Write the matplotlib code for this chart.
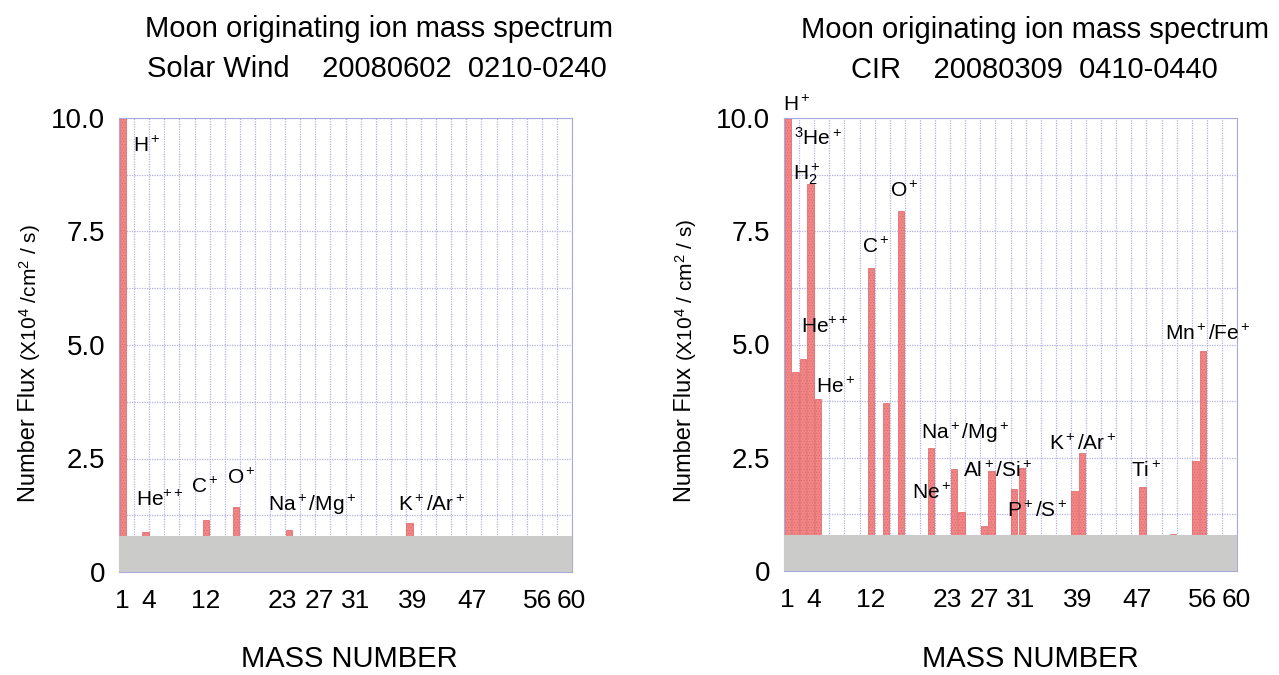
import matplotlib
matplotlib.use('Agg')
import matplotlib.pyplot as plt
import numpy as np

plt.rcParams['font.family'] = ['Liberation Sans', 'DejaVu Sans']
plt.rcParams['mathtext.fontset'] = 'custom'
plt.rcParams['mathtext.rm'] = 'Liberation Sans'
plt.rcParams['mathtext.it'] = 'Liberation Sans'
plt.rcParams['mathtext.bf'] = 'Liberation Sans:bold'
plt.rcParams['mathtext.default'] = 'regular'
plt.rcParams['hatch.linewidth'] = 0.35
plt.rcParams['hatch.color'] = '#d86464'

# ---------------- data ----------------
title_main = "Moon originating ion mass spectrum"
sw_subtitle = "Solar Wind    20080602  0210-0240"
cir_subtitle = "CIR    20080309  0410-0440"
xlabel_text = "MASS NUMBER"

sw_mass = [1, 4, 12, 16, 23, 39]
sw_flux = [10.5, 0.88, 1.14, 1.44, 0.93, 1.07]

cir_mass = [1, 2, 3, 4, 5, 12, 14, 16, 20, 23, 24, 27, 28, 31, 32, 39, 40, 48, 52, 55, 56]
cir_flux = [10.5, 4.40, 4.69, 8.54, 3.79, 6.68, 3.70, 7.95, 2.71, 2.25, 1.31, 0.99, 2.21,
            1.80, 2.27, 1.76, 2.61, 1.85, 0.82, 2.43, 4.86]

mass_ticks = [1, 4, 12, 23, 27, 31, 39, 47, 56, 60]
# where each mass-number label sits along the axis (data units, as in the original)
mass_tick_pos = [0.4, 3.9, 11.45, 21.65, 26.6, 31.4, 38.95, 46.8, 55.5, 59.9]
flux_ticks = [0, 2.5, 5.0, 7.5, 10.0]
flux_ticklabels = ['0', '2.5', '5.0', '7.5', '10.0']
background_level = 0.79

sw_labels = [r'H$^+$', r'He$^{++}$', r'C$^+$', r'O$^+$', r'Na$^+$/Mg$^+$', r'K$^+$/Ar$^+$']
cir_labels = [r'H$^+$', r'${}^{3}$He$^+$', r'H$_2^+$', r'O$^+$', r'C$^+$', r'He$^{++}$',
              r'He$^+$', r'Mn$^+$/Fe$^+$', r'Na$^+$/Mg$^+$', r'K$^+$/Ar$^+$',
              r'Al$^+$/Si$^+$', r'Ti$^+$', r'Ne$^+$', r'P$^+$/S$^+$']

# label anchor positions (data coords, left/baseline)
sw_label_pos = [(1.9, 9.26), (2.25, 1.45), (9.6, 1.75), (14.3, 1.94), (19.8, 1.35), (36.9, 1.35)]
cir_label_pos = [(-0.1, 10.16), (1.3, 9.40), (1.15, 8.65), (14.1, 8.26), (10.3, 7.01),
                 (2.2, 5.26), (4.3, 3.92), (50.5, 5.11), (18.1, 2.91), (35.1, 2.67),
                 (23.7, 2.08), (45.9, 2.08), (16.9, 1.58), (29.6, 1.20)]

# ---------------- figure ----------------
W, H = 1279, 675
fig = plt.figure(figsize=(W / 100, H / 100), dpi=100)

BAR_FACE = '#f28686'
BAR_EDGE = '#dd6262'
BAND = '#cbcbc9'
GRID = '#b2b2e4'
FRAME = '#a9a9dc'


def make_panel(rect, mass, flux, labels, label_pos):
    ax = fig.add_axes(rect)
    ax.set_xlim(0, 60)
    ax.set_ylim(0, 10)
    ax.bar([m - 0.5 for m in mass], flux, width=0.85, color=BAR_FACE,
           edgecolor=BAR_EDGE, linewidth=0.5, hatch='......', zorder=2)
    ax.axhspan(0, background_level, color=BAND, zorder=3, lw=0)
    ax.set_xticks(np.arange(0, 61, 2), minor=True)
    ax.set_yticks(np.arange(0, 10.01, 1.25), minor=True)
    ax.set_xticks(mass_tick_pos)
    ax.set_xticklabels([str(m) for m in mass_ticks])
    ax.set_yticks(flux_ticks)
    ax.set_yticklabels(flux_ticklabels)
    ax.grid(False)
    ax.grid(which='minor', color=GRID, linestyle=(0, (1, 1)), linewidth=0.9)
    ax.yaxis.grid(True, which='major', color=GRID, linestyle=(0, (1, 1)), linewidth=0.9)
    ax.set_axisbelow(True)
    ax.tick_params(which='both', length=0)
    ax.tick_params(axis='x', labelsize=19, pad=12)
    ax.tick_params(axis='y', labelsize=20, pad=10)
    for s in ax.spines.values():
        s.set_color(FRAME)
        s.set_linewidth(0.8)
    for t, (x, y) in zip(labels, label_pos):
        ax.text(x, y, t, fontsize=15, ha='left', va='baseline', zorder=5, clip_on=False)
    return ax


axL = make_panel([119 / W, 1 - 572 / H, 453 / W, 454 / H], sw_mass, sw_flux, sw_labels, sw_label_pos)
axR = make_panel([784 / W, 1 - 571 / H, 453 / W, 453 / H], cir_mass, cir_flux, cir_labels, cir_label_pos)

# titles
fig.text(379 / W, 1 - 37 / H, title_main, fontsize=21, ha='center', va='baseline')
fig.text(377 / W, 1 - 77 / H, sw_subtitle, fontsize=21, ha='center', va='baseline')
fig.text(1035 / W, 1 - 38 / H, title_main, fontsize=21, ha='center', va='baseline')
fig.text(1034 / W, 1 - 78 / H, cir_subtitle, fontsize=21, ha='center', va='baseline')

# x labels
fig.text(349 / W, 1 - 667 / H, xlabel_text, fontsize=21, ha='center', va='baseline')
fig.text(1030 / W, 1 - 667 / H, xlabel_text, fontsize=21, ha='center', va='baseline')

# y labels
fig.text(29 / W, 1 - 367 / H, "Number Flux", fontsize=17, rotation=90, ha='center', va='top')
fig.text(30 / W, 1 - 361 / H, r"(X10$^4$ /cm$^2$ / s)", fontsize=15, rotation=90, ha='center', va='bottom')
fig.text(685 / W, 1 - 367 / H, "Number Flux", fontsize=17, rotation=90, ha='center', va='top')
fig.text(686 / W, 1 - 361 / H, r"(X10$^4$ / cm$^2$ / s)", fontsize=15, rotation=90, ha='center', va='bottom')

fig.savefig('out.png', dpi=100, facecolor='white')
